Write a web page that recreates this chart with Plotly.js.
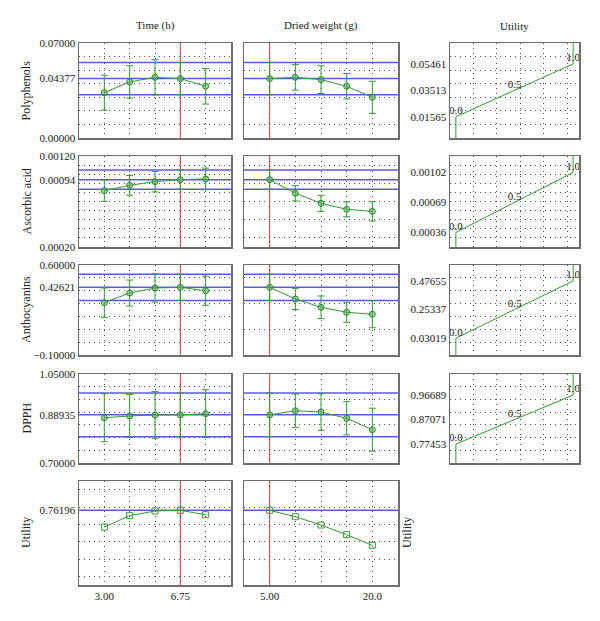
<!DOCTYPE html>
<html>
<head>
<meta charset="utf-8">
<script src="https://cdn.plot.ly/plotly-3.0.1.min.js"></script>
<style>html,body{margin:0;padding:0;background:#fff;}#chart{width:600px;height:621px;}</style>
</head>
<body>
<div id="chart"></div>
<script>
// ---------------- data ----------------
const timeX = [3, 4.25, 5.5, 6.75, 8];
const weightX = [5, 8.75, 12.5, 16.25, 20];
const timeOpt = 6.75;
const weightOpt = 5;
const xTickTextTime = ['3.00', '', '', '6.75', ''];
const xTickTextWeight = ['5.00', '', '', '', '20.0'];

const rowNames = ['Polyphenols', 'Ascorbic acid', 'Anthocyanins', 'DPPH', 'Utility'];
const colNames = ['Time (h)', 'Dried weight (g)', 'Utility'];

const polyTime = [0.0334, 0.0413, 0.0447, 0.04377, 0.0381];
const polyTimeErr = [0.0129, 0.0119, 0.0130, 0.0119, 0.0131];
const polyWeight = [0.04377, 0.0447, 0.0430, 0.0381, 0.0300];
const polyWeightErr = [0.0119, 0.0094, 0.0102, 0.0094, 0.0118];

const ascTime = [0.000819, 0.000878, 0.000918, 0.00094, 0.000948];
const ascTimeErr = [0.000117, 0.000108, 0.000113, 0.000106, 0.000119];
const ascWeight = [0.00094, 0.00079, 0.00068, 0.000614, 0.000592];
const ascWeightErr = [0.000106, 0.000084, 0.000088, 0.000082, 0.000106];

const anthTime = [0.307, 0.382, 0.421, 0.42621, 0.400];
const anthTimeErr = [0.114, 0.101, 0.110, 0.102, 0.113];
const anthWeight = [0.42621, 0.336, 0.271, 0.232, 0.217];
const anthWeightErr = [0.102, 0.082, 0.088, 0.078, 0.105];

const dpphTime = [0.878, 0.885, 0.889, 0.88935, 0.894];
const dpphTimeErr = [0.0944, 0.0845, 0.0917, 0.086, 0.094];
const dpphWeight = [0.88935, 0.9057, 0.9006, 0.8758, 0.831];
const dpphWeightErr = [0.086, 0.0655, 0.072, 0.0655, 0.0845];

const utilTime = [0.569, 0.700, 0.754, 0.76196, 0.711];
const utilWeight = [0.76196, 0.688, 0.592, 0.480, 0.358];

// optimum predicted values and their +/- interval (blue lines)
const optValue = [0.04377, 0.00094, 0.42621, 0.88935, 0.76196];
const optInterval = [0.0119, 0.000106, 0.102, 0.086, 0];
const optLabels = ['0.04377', '0.00094', '0.42621', '0.88935', '0.76196'];

// desirability specification (low, mid, high) and levels
const polyLim = [0.01565, 0.03513, 0.05461];
const ascLim = [0.00036, 0.00069, 0.00102];
const anthLim = [0.03019, 0.25337, 0.47655];
const dpphLim = [0.77453, 0.87071, 0.96689];
const desirLimLabels = [
  ['0.01565', '0.03513', '0.05461'],
  ['0.00036', '0.00069', '0.00102'],
  ['0.03019', '0.25337', '0.47655'],
  ['0.77453', '0.87071', '0.96689']
];
const desirLevels = [0, 0.5, 1];
const desirLevelText = ['0.0', '0.5', '1.0'];

// axis ranges
const yRanges = [[0, 0.07], [0.0002, 0.0012], [-0.1, 0.6], [0.7, 1.05], [-0.1, 1.1]];
const yRangeLabels = [['0.00000', '0.07000'], ['0.00020', '0.00120'], ['\u22120.10000', '0.60000'], ['0.70000', '1.05000'], [null, null]];
const yGrid = [[0, 0.01], [0.0002, 0.0001], [0, 0.1], [0.7, 0.05], [0, 0.2]];
const timeRange = [1.75, 9.25];
const weightRange = [1.25, 23.75];
const desirRange = [-0.05, 1.05];

const rowTime = [[polyTime, polyTimeErr], [ascTime, ascTimeErr], [anthTime, anthTimeErr], [dpphTime, dpphTimeErr], [utilTime, null]];
const rowWeight = [[polyWeight, polyWeightErr], [ascWeight, ascWeightErr], [anthWeight, anthWeightErr], [dpphWeight, dpphWeightErr], [utilWeight, null]];
const rowLims = [polyLim, ascLim, anthLim, dpphLim];

// ---------------- layout helpers ----------------
const W = 600, H = 621;
const colPx = [[79, 231], [244, 398], [450, 579]];
const rowPx = [[43, 138], [156, 247], [265, 355], [374, 463], [481, 585]];

const FONT = 'Liberation Serif, Times New Roman, serif';
const GREEN = '#3a983a';
const BLUE = '#5a5ae0';
const RED = '#e0403a';
const GRIDC = '#555555';
const GDASH = '1px,4px';

const traces = [];
const shapes = [];
const annotations = [];
const layout = {
  width: W, height: H,
  margin: {l: 0, r: 0, t: 0, b: 0},
  paper_bgcolor: '#ffffff', plot_bgcolor: '#ffffff',
  showlegend: false,
  font: {family: FONT, size: 11, color: '#222'}
};

function baseAxis(dom) {
  return {
    domain: dom, showline: true, mirror: true, linecolor: '#6e6e6e', linewidth: 1.5,
    zeroline: false, ticks: '', fixedrange: true,
    tickfont: {family: FONT, size: 11, color: '#222'}
  };
}

let n = 0;
for (let r = 0; r < 5; r++) {
  for (let c = 0; c < 3; c++) {
    if (r === 4 && c === 2) continue;
    n++;
    const xn = 'xaxis' + (n === 1 ? '' : n), yn = 'yaxis' + (n === 1 ? '' : n);
    const xr = 'x' + (n === 1 ? '' : n), yr = 'y' + (n === 1 ? '' : n);
    const xd = [colPx[c][0] / W, colPx[c][1] / W];
    const yd = [1 - rowPx[r][1] / H, 1 - rowPx[r][0] / H];

    const xa = baseAxis(xd);
    xa.anchor = yr;
    const ya = baseAxis(yd);
    ya.anchor = xr;
    ya.range = yRanges[r];
    ya.showgrid = false;
    ya.minor = {tick0: yGrid[r][0], dtick: yGrid[r][1], showgrid: true, gridcolor: GRIDC, griddash: GDASH, gridwidth: 1, ticks: ''};

    if (c < 2) {
      const xs = c === 0 ? timeX : weightX;
      xa.range = c === 0 ? timeRange : weightRange;
      xa.tickmode = 'array';
      xa.tickvals = xs;
      xa.ticktext = c === 0 ? xTickTextTime : xTickTextWeight;
      xa.showgrid = true; xa.gridcolor = GRIDC; xa.griddash = GDASH; xa.gridwidth = 1;
      xa.showticklabels = (r === 4);

      if (c === 0) {
        ya.tickmode = 'array';
        if (r < 4) {
          ya.tickvals = [yRanges[r][0], optValue[r], yRanges[r][1]];
          ya.ticktext = [yRangeLabels[r][0], optLabels[r], yRangeLabels[r][1]];
        } else {
          ya.tickvals = [optValue[r]];
          ya.ticktext = [optLabels[r]];
        }
        // row title
        annotations.push({
          text: rowNames[r], xref: 'paper', yref: 'paper', x: 26 / W, y: (yd[0] + yd[1]) / 2,
          textangle: -90, showarrow: false, xanchor: 'center', yanchor: 'middle',
          font: {family: FONT, size: 12, color: '#222'}
        });
      } else {
        ya.showticklabels = false;
      }

      const d = c === 0 ? rowTime[r] : rowWeight[r];
      const tr = {
        type: 'scatter', mode: 'lines+markers', x: xs, y: d[0], xaxis: xr, yaxis: yr,
        line: {color: GREEN, width: 1},
        marker: r === 4
          ? {symbol: 'square-open', size: 6, color: GREEN, line: {color: GREEN, width: 1}}
          : {symbol: 'circle', size: 6, color: 'rgba(90,180,90,0.55)', line: {color: '#2f8a2f', width: 1}},
        cliponaxis: false, hoverinfo: 'skip'
      };
      if (d[1]) tr.error_y = {type: 'data', array: d[1], visible: true, color: GREEN, thickness: 1, width: 3.5};
      traces.push(tr);

      // blue optimum lines
      const lv = optInterval[r] > 0 ? [optValue[r] - optInterval[r], optValue[r], optValue[r] + optInterval[r]] : [optValue[r]];
      lv.forEach(v => shapes.push({type: 'line', layer: 'below', xref: xr + ' domain', yref: yr, x0: 0, x1: 1, y0: v, y1: v, line: {color: BLUE, width: 1.5}}));
      // red optimum vertical
      const xo = c === 0 ? timeOpt : weightOpt;
      shapes.push({type: 'line', layer: 'below', xref: xr, yref: yr + ' domain', x0: xo, x1: xo, y0: 0, y1: 1, line: {color: RED, width: 1}});
    } else {
      xa.range = desirRange;
      xa.tickmode = 'array'; xa.tickvals = []; xa.showticklabels = false; xa.showgrid = false;
      xa.minor = {tick0: 0.15, dtick: 0.2, showgrid: true, gridcolor: GRIDC, griddash: GDASH, gridwidth: 1, ticks: ''};
      ya.tickmode = 'array';
      ya.tickvals = rowLims[r];
      ya.ticktext = desirLimLabels[r];
      const lim = rowLims[r];
      traces.push({
        type: 'scatter', mode: 'lines', xaxis: xr, yaxis: yr,
        x: [desirLevels[0], desirLevels[0], desirLevels[1], desirLevels[2], desirLevels[2]],
        y: [yRanges[r][0], lim[0], lim[1], lim[2], yRanges[r][1]],
        line: {color: GREEN, width: 1}, hoverinfo: 'skip'
      });
      traces.push({
        type: 'scatter', mode: 'text', xaxis: xr, yaxis: yr,
        x: desirLevels, y: lim, text: desirLevelText, textposition: 'top center',
        textfont: {family: FONT, size: 11, color: '#222'}, cliponaxis: false, hoverinfo: 'skip'
      });
    }
    layout[xn] = xa;
    layout[yn] = ya;
  }
}

// column titles
const colCenters = colPx.map(p => (p[0] + p[1]) / 2 / W);
colNames.forEach((t, i) => annotations.push({
  text: t, xref: 'paper', yref: 'paper', x: colCenters[i], y: 1 - 26 / H,
  showarrow: false, xanchor: 'center', yanchor: 'middle', font: {family: FONT, size: 11, color: '#222'}
}));
// utility label in empty cell
annotations.push({
  text: 'Utility', xref: 'paper', yref: 'paper', x: 407 / W, y: 1 - 533 / H, textangle: -90,
  showarrow: false, xanchor: 'center', yanchor: 'middle', font: {family: FONT, size: 12, color: '#222'}
});

layout.shapes = shapes;
layout.annotations = annotations;

Plotly.newPlot('chart', traces, layout, {staticPlot: true, displayModeBar: false});
</script>
</body>
</html>
